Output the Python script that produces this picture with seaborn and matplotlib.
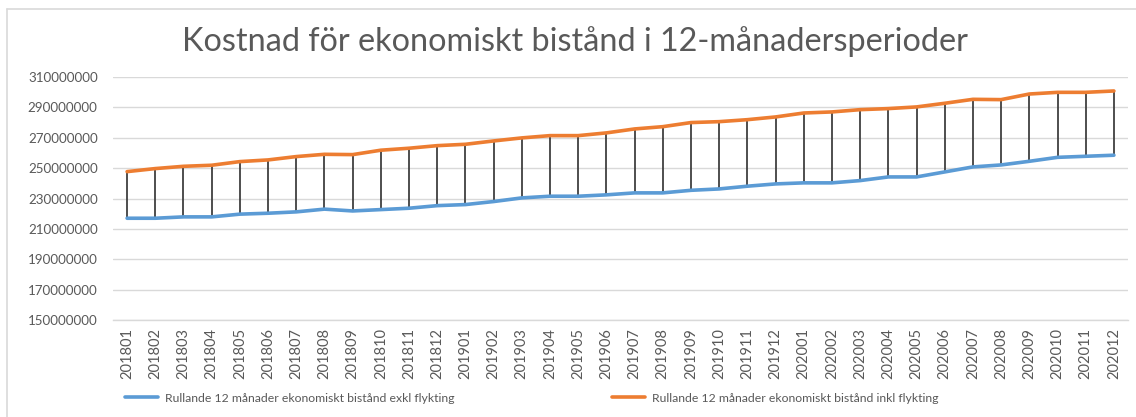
import matplotlib
matplotlib.use("Agg")
import matplotlib.pyplot as plt
from matplotlib.ticker import FuncFormatter
import numpy as np
import pandas as pd
import seaborn as sns

# Rolling 12-month cost (SEK) per period
periods = [
    "201801", "201802", "201803", "201804", "201805", "201806",
    "201807", "201808", "201809", "201810", "201811", "201812",
    "201901", "201902", "201903", "201904", "201905", "201906",
    "201907", "201908", "201909", "201910", "201911", "201912",
    "202001", "202002", "202003", "202004", "202005", "202006",
    "202007", "202008", "202009", "202010", "202011", "202012",
]
exkl_flykting = [
    217.0, 217.0, 217.9, 217.9, 219.7, 220.3, 221.2, 223.0, 221.8, 222.7, 223.6, 225.3,
    226.0, 228.0, 230.4, 231.5, 231.5, 232.4, 233.7, 233.7, 235.4, 236.3, 238.1, 239.6,
    240.3, 240.3, 241.8, 244.2, 244.2, 247.5, 250.8, 252.1, 254.5, 257.1, 257.8, 258.5,
]
inkl_flykting = [
    247.7, 249.7, 251.2, 251.9, 254.3, 255.4, 257.6, 259.1, 258.9, 261.8, 263.1, 264.8,
    265.7, 267.9, 269.9, 271.4, 271.4, 273.2, 275.8, 277.3, 280.0, 280.6, 281.9, 283.7,
    286.3, 287.0, 288.5, 289.2, 290.3, 292.7, 295.3, 295.1, 298.8, 299.9, 299.9, 300.8,
]
y_ticks = [150000000, 170000000, 190000000, 210000000, 230000000,
           250000000, 270000000, 290000000, 310000000]
series_names = [
    "Rullande 12 månader ekonomiskt bistånd exkl flykting",
    "Rullande 12 månader ekonomiskt bistånd inkl flykting",
]
title = "Kostnad för ekonomiskt bistånd i 12-månadersperioder"

exkl = np.array(exkl_flykting) * 1e6
inkl = np.array(inkl_flykting) * 1e6
x = np.arange(len(periods))

df = pd.DataFrame({
    "pos": np.concatenate([x, x]),
    "value": np.concatenate([exkl, inkl]),
    "serie": [series_names[0]] * len(x) + [series_names[1]] * len(x),
})

sns.set_theme(style="white")
plt.rcParams["font.family"] = ["Lato", "DejaVu Sans"]

text_grey = "#595959"
fig = plt.figure(figsize=(11.36, 4.17), dpi=100)
ax = fig.add_axes([113 / 1136, 97 / 417, (1128 - 113) / 1136, 243 / 417])

# high-low lines between the two series
ax.vlines(x, exkl, inkl, colors="#404040", linewidth=1.3, zorder=2)

sns.lineplot(
    data=df, x="pos", y="value", hue="serie",
    palette=["#5B9BD5", "#ED7D31"], linewidth=2.6, ax=ax,
    legend=False, zorder=3,
)

ax.set_xlim(-0.5, len(periods) - 0.5)
ax.set_ylim(y_ticks[0], y_ticks[-1])
ax.set_yticks(y_ticks)
ax.yaxis.set_major_formatter(FuncFormatter(lambda v, p: f"{v:.0f}"))
ax.set_xticks(x)
ax.set_xticklabels(periods, rotation=90)
ax.tick_params(axis="both", length=0, colors=text_grey)
ax.tick_params(axis="y", labelsize=9.6, pad=11)
ax.tick_params(axis="x", labelsize=10.5, pad=6)
ax.set_xlabel("")
ax.set_ylabel("")
ax.grid(axis="y", color="#D9D9D9", linewidth=1.0)
ax.set_axisbelow(True)
for side in ["top", "right", "left"]:
    ax.spines[side].set_visible(False)
ax.spines["bottom"].set_color("#D9D9D9")
ax.spines["bottom"].set_linewidth(1.0)

fig.text(575 / 1136, 1 - 42 / 417, title, ha="center", va="center",
         fontsize=23.3, color=text_grey)

# legend below the chart
handles = [
    plt.Line2D([], [], color="#5B9BD5", linewidth=2.6),
    plt.Line2D([], [], color="#ED7D31", linewidth=2.6),
]
fig.legend(handles, series_names, loc="center left",
           bbox_to_anchor=(120 / 1136, 1 - 398 / 417), ncol=2, frameon=False,
           fontsize=8.8, labelcolor=text_grey, handlelength=2.7,
           handletextpad=0.55, columnspacing=12.9, borderaxespad=0)

# chart frame (top and left edges visible)
fig.add_artist(plt.Line2D([6.5 / 1136, 1], [1 - 8.5 / 417, 1 - 8.5 / 417],
                          color="#D9D9D9", linewidth=1.2))
fig.add_artist(plt.Line2D([6.5 / 1136, 6.5 / 1136], [0, 1 - 8.5 / 417],
                          color="#D9D9D9", linewidth=1.2))

fig.savefig("out.png", dpi=100, facecolor="white")
